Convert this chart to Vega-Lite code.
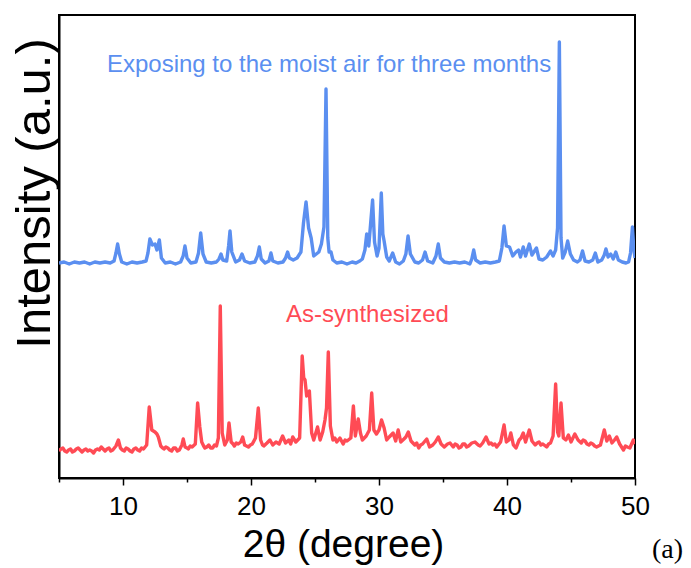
{
"$schema": "https://vega.github.io/schema/vega-lite/v6.json",
"width": 576, "height": 463,
"autosize": "none",
"padding": {"left": 59, "top": 15, "right": 56, "bottom": 90},
"background": "white",
"config": {"view": {"stroke": "#000", "strokeWidth": 2}, "font": "Liberation Sans"},
"datasets": {
"exposed": [
{"t":5.0,"i":215},{"t":5.4,"i":216},{"t":5.8,"i":214},{"t":6.2,"i":216},{"t":6.6,"i":215},{"t":7.0,"i":216},{"t":7.4,"i":214},{"t":7.8,"i":216},{"t":8.2,"i":215},{"t":8.6,"i":216},{"t":9.0,"i":215},{"t":9.3,"i":217},{"t":9.45,"i":225},{"t":9.58,"i":234},{"t":9.72,"i":224},{"t":9.9,"i":216},{"t":10.3,"i":214},{"t":10.7,"i":216},{"t":11.1,"i":215},{"t":11.5,"i":216},{"t":11.8,"i":217},{"t":11.95,"i":225},{"t":12.1,"i":239},{"t":12.3,"i":233},{"t":12.5,"i":234},{"t":12.65,"i":228},{"t":12.84,"i":238},{"t":13.0,"i":220},{"t":13.3,"i":215},{"t":13.7,"i":216},{"t":14.1,"i":214},{"t":14.5,"i":216},{"t":14.7,"i":222},{"t":14.84,"i":232},{"t":15.0,"i":220},{"t":15.3,"i":215},{"t":15.7,"i":216},{"t":15.9,"i":225},{"t":16.07,"i":245},{"t":16.25,"i":224},{"t":16.5,"i":216},{"t":16.9,"i":215},{"t":17.3,"i":216},{"t":17.5,"i":219},{"t":17.66,"i":224},{"t":17.8,"i":218},{"t":18.1,"i":217},{"t":18.25,"i":232},{"t":18.36,"i":247},{"t":18.5,"i":226},{"t":18.8,"i":216},{"t":19.1,"i":218},{"t":19.3,"i":224},{"t":19.5,"i":217},{"t":19.9,"i":215},{"t":20.3,"i":216},{"t":20.5,"i":222},{"t":20.65,"i":231},{"t":20.8,"i":219},{"t":21.1,"i":215},{"t":21.4,"i":217},{"t":21.56,"i":225},{"t":21.7,"i":217},{"t":22.1,"i":215},{"t":22.5,"i":216},{"t":22.7,"i":220},{"t":22.86,"i":226},{"t":23.0,"i":220},{"t":23.3,"i":218},{"t":23.6,"i":220},{"t":23.9,"i":226},{"t":24.1,"i":255},{"t":24.3,"i":276},{"t":24.5,"i":250},{"t":24.7,"i":240},{"t":24.9,"i":222},{"t":25.1,"i":224},{"t":25.3,"i":226},{"t":25.5,"i":234},{"t":25.7,"i":251},{"t":25.86,"i":389},{"t":26.0,"i":240},{"t":26.1,"i":226},{"t":26.25,"i":226},{"t":26.4,"i":218},{"t":26.7,"i":215},{"t":27.1,"i":216},{"t":27.5,"i":214},{"t":27.9,"i":216},{"t":28.2,"i":215},{"t":28.5,"i":217},{"t":28.7,"i":219},{"t":28.9,"i":228},{"t":29.04,"i":244},{"t":29.2,"i":232},{"t":29.5,"i":278},{"t":29.65,"i":236},{"t":29.85,"i":222},{"t":30.0,"i":230},{"t":30.18,"i":285},{"t":30.3,"i":244},{"t":30.4,"i":237},{"t":30.6,"i":221},{"t":30.8,"i":217},{"t":31.07,"i":225},{"t":31.3,"i":216},{"t":31.6,"i":214},{"t":31.9,"i":217},{"t":32.1,"i":224},{"t":32.27,"i":242},{"t":32.45,"i":224},{"t":32.8,"i":216},{"t":33.1,"i":215},{"t":33.4,"i":218},{"t":33.6,"i":226},{"t":33.8,"i":217},{"t":34.2,"i":215},{"t":34.45,"i":222},{"t":34.63,"i":234},{"t":34.8,"i":220},{"t":35.1,"i":216},{"t":35.5,"i":215},{"t":35.9,"i":216},{"t":36.3,"i":215},{"t":36.7,"i":216},{"t":37.1,"i":214},{"t":37.25,"i":219},{"t":37.4,"i":228},{"t":37.55,"i":218},{"t":37.9,"i":215},{"t":38.3,"i":216},{"t":38.7,"i":215},{"t":39.1,"i":216},{"t":39.4,"i":217},{"t":39.6,"i":230},{"t":39.77,"i":252},{"t":39.95,"i":232},{"t":40.2,"i":231},{"t":40.45,"i":222},{"t":40.7,"i":226},{"t":40.9,"i":228},{"t":41.05,"i":221},{"t":41.27,"i":231},{"t":41.45,"i":222},{"t":41.74,"i":234},{"t":41.95,"i":223},{"t":42.3,"i":230},{"t":42.5,"i":219},{"t":42.8,"i":218},{"t":43.1,"i":221},{"t":43.4,"i":227},{"t":43.6,"i":222},{"t":43.8,"i":228},{"t":43.95,"i":250},{"t":44.09,"i":436},{"t":44.22,"i":240},{"t":44.35,"i":220},{"t":44.55,"i":226},{"t":44.74,"i":237},{"t":44.95,"i":224},{"t":45.2,"i":218},{"t":45.5,"i":216},{"t":45.7,"i":218},{"t":45.9,"i":227},{"t":46.1,"i":217},{"t":46.4,"i":216},{"t":46.7,"i":218},{"t":46.9,"i":225},{"t":47.1,"i":216},{"t":47.4,"i":218},{"t":47.6,"i":223},{"t":47.73,"i":229},{"t":47.9,"i":221},{"t":48.1,"i":224},{"t":48.3,"i":219},{"t":48.5,"i":226},{"t":48.7,"i":218},{"t":49.0,"i":216},{"t":49.3,"i":215},{"t":49.5,"i":216},{"t":49.65,"i":225},{"t":49.8,"i":251},{"t":49.9,"i":230},{"t":50.0,"i":220}
],
"asyn": [
{"t":5.0,"i":27},{"t":5.15,"i":29},{"t":5.3,"i":30},{"t":5.45,"i":27},{"t":5.6,"i":26},{"t":5.75,"i":28},{"t":5.9,"i":29},{"t":6.05,"i":26},{"t":6.2,"i":27},{"t":6.35,"i":29},{"t":6.5,"i":30},{"t":6.65,"i":28},{"t":6.8,"i":26},{"t":6.95,"i":28},{"t":7.1,"i":29},{"t":7.25,"i":27},{"t":7.4,"i":28},{"t":7.55,"i":27},{"t":7.7,"i":25},{"t":7.85,"i":28},{"t":8.0,"i":29},{"t":8.15,"i":28},{"t":8.3,"i":31},{"t":8.45,"i":29},{"t":8.6,"i":27},{"t":8.75,"i":29},{"t":8.9,"i":30},{"t":9.05,"i":27},{"t":9.2,"i":28},{"t":9.45,"i":32},{"t":9.64,"i":38},{"t":9.8,"i":30},{"t":9.95,"i":28},{"t":10.1,"i":27},{"t":10.25,"i":30},{"t":10.4,"i":29},{"t":10.55,"i":27},{"t":10.7,"i":26},{"t":10.85,"i":29},{"t":11.0,"i":30},{"t":11.15,"i":28},{"t":11.3,"i":27},{"t":11.45,"i":30},{"t":11.6,"i":29},{"t":11.85,"i":33},{"t":12.05,"i":71},{"t":12.25,"i":48},{"t":12.5,"i":46},{"t":12.65,"i":44},{"t":12.76,"i":41},{"t":12.95,"i":32},{"t":13.1,"i":30},{"t":13.2,"i":29},{"t":13.35,"i":31},{"t":13.5,"i":30},{"t":13.65,"i":28},{"t":13.8,"i":27},{"t":13.95,"i":30},{"t":14.1,"i":30},{"t":14.25,"i":27},{"t":14.4,"i":28},{"t":14.6,"i":33},{"t":14.71,"i":39},{"t":14.85,"i":31},{"t":15.0,"i":30},{"t":15.1,"i":29},{"t":15.25,"i":32},{"t":15.4,"i":31},{"t":15.65,"i":34},{"t":15.83,"i":75},{"t":16.0,"i":51},{"t":16.15,"i":36},{"t":16.3,"i":32},{"t":16.4,"i":30},{"t":16.55,"i":31},{"t":16.7,"i":33},{"t":16.85,"i":30},{"t":17.0,"i":30},{"t":17.15,"i":33},{"t":17.3,"i":32},{"t":17.45,"i":40},{"t":17.6,"i":172},{"t":17.75,"i":45},{"t":17.95,"i":33},{"t":18.15,"i":38},{"t":18.28,"i":55},{"t":18.45,"i":36},{"t":18.6,"i":34},{"t":18.7,"i":32},{"t":18.85,"i":35},{"t":19.0,"i":34},{"t":19.2,"i":36},{"t":19.35,"i":41},{"t":19.5,"i":33},{"t":19.65,"i":32},{"t":19.8,"i":31},{"t":19.95,"i":33},{"t":20.1,"i":34},{"t":20.35,"i":40},{"t":20.57,"i":70},{"t":20.75,"i":38},{"t":20.9,"i":33},{"t":21.0,"i":32},{"t":21.25,"i":35},{"t":21.48,"i":38},{"t":21.7,"i":33},{"t":21.95,"i":36},{"t":22.2,"i":34},{"t":22.47,"i":42},{"t":22.7,"i":35},{"t":22.95,"i":38},{"t":23.1,"i":34},{"t":23.26,"i":41},{"t":23.5,"i":36},{"t":23.65,"i":38},{"t":23.8,"i":40},{"t":24.0,"i":122},{"t":24.12,"i":100},{"t":24.22,"i":98},{"t":24.35,"i":82},{"t":24.56,"i":87},{"t":24.74,"i":45},{"t":24.9,"i":38},{"t":25.2,"i":51},{"t":25.4,"i":38},{"t":25.6,"i":46},{"t":25.78,"i":58},{"t":25.9,"i":70},{"t":26.04,"i":126},{"t":26.2,"i":52},{"t":26.4,"i":38},{"t":26.55,"i":40},{"t":26.7,"i":36},{"t":26.95,"i":40},{"t":27.2,"i":34},{"t":27.35,"i":38},{"t":27.5,"i":37},{"t":27.8,"i":40},{"t":28.0,"i":72},{"t":28.15,"i":42},{"t":28.38,"i":59},{"t":28.55,"i":45},{"t":28.7,"i":38},{"t":29.0,"i":42},{"t":29.25,"i":48},{"t":29.43,"i":85},{"t":29.6,"i":48},{"t":29.8,"i":44},{"t":30.0,"i":48},{"t":30.2,"i":58},{"t":30.4,"i":50},{"t":30.6,"i":38},{"t":30.8,"i":41},{"t":31.1,"i":45},{"t":31.3,"i":37},{"t":31.5,"i":48},{"t":31.7,"i":36},{"t":31.95,"i":39},{"t":32.1,"i":41},{"t":32.29,"i":46},{"t":32.5,"i":37},{"t":32.65,"i":35},{"t":32.8,"i":33},{"t":32.95,"i":35},{"t":33.1,"i":30},{"t":33.25,"i":33},{"t":33.4,"i":34},{"t":33.73,"i":39},{"t":33.95,"i":31},{"t":34.2,"i":33},{"t":34.4,"i":36},{"t":34.63,"i":41},{"t":34.85,"i":34},{"t":35.1,"i":31},{"t":35.35,"i":34},{"t":35.55,"i":35},{"t":35.8,"i":31},{"t":35.95,"i":34},{"t":36.1,"i":33},{"t":36.25,"i":30},{"t":36.4,"i":31},{"t":36.55,"i":34},{"t":36.7,"i":34},{"t":36.85,"i":31},{"t":37.0,"i":32},{"t":37.25,"i":35},{"t":37.5,"i":36},{"t":37.75,"i":33},{"t":37.9,"i":32},{"t":38.1,"i":35},{"t":38.36,"i":41},{"t":38.6,"i":34},{"t":38.75,"i":35},{"t":38.9,"i":33},{"t":39.05,"i":34},{"t":39.2,"i":31},{"t":39.5,"i":36},{"t":39.77,"i":53},{"t":39.95,"i":36},{"t":40.15,"i":38},{"t":40.3,"i":45},{"t":40.5,"i":33},{"t":40.7,"i":30},{"t":40.95,"i":38},{"t":41.1,"i":40},{"t":41.27,"i":45},{"t":41.45,"i":36},{"t":41.74,"i":48},{"t":41.95,"i":37},{"t":42.2,"i":33},{"t":42.35,"i":35},{"t":42.5,"i":36},{"t":42.65,"i":33},{"t":42.8,"i":34},{"t":43.1,"i":31},{"t":43.25,"i":34},{"t":43.4,"i":35},{"t":43.6,"i":42},{"t":43.8,"i":94},{"t":43.95,"i":46},{"t":44.05,"i":42},{"t":44.22,"i":75},{"t":44.4,"i":40},{"t":44.6,"i":38},{"t":44.8,"i":43},{"t":45.0,"i":36},{"t":45.3,"i":44},{"t":45.55,"i":38},{"t":45.8,"i":35},{"t":45.95,"i":38},{"t":46.1,"i":37},{"t":46.25,"i":34},{"t":46.4,"i":33},{"t":46.55,"i":35},{"t":46.7,"i":34},{"t":46.85,"i":32},{"t":47.0,"i":31},{"t":47.3,"i":33},{"t":47.6,"i":48},{"t":47.8,"i":37},{"t":48.0,"i":42},{"t":48.2,"i":35},{"t":48.4,"i":38},{"t":48.57,"i":41},{"t":48.8,"i":34},{"t":48.95,"i":31},{"t":49.1,"i":28},{"t":49.25,"i":32},{"t":49.4,"i":31},{"t":49.6,"i":30},{"t":49.87,"i":38},{"t":50.0,"i":34}
],
"labels": [
{"t":26.1,"i":406,"label":"Exposing to the moist air for three months","color":"#5b8ff0"},
{"t":29.1,"i":156,"label":"As-synthesized","color":"#ff4b55"}
],
"panel": [
{"t":52.54,"i":-80,"label":"(a)"}
]
},
"encoding": {
"x": {"field":"t","type":"quantitative","scale":{"domain":[5,50],"nice":false,"zero":false},
 "title":"2θ (degree)",
 "axis":{"values":[5,10,15,20,25,30,35,40,45,50],"labelExpr":"datum.value % 10 === 0 ? datum.label : ''",
  "tickSize":{"condition":{"test":"datum.value % 10 === 0","value":7},"value":4},
  "tickColor":"black","tickWidth":1.5,"domainColor":"black","domainWidth":2,
  "labelFontSize":26,"labelColor":"black","labelBaseline":"alphabetic","labelPadding":29,"labelFlush":false,"labelOverlap":false,"labelFont":"Liberation Sans",
  "titleFontSize":39,"titleFontWeight":"normal","titleColor":"black","titleFont":"Liberation Sans",
  "titleX":284,"titleY":78,"titleBaseline":"alphabetic","titleAlign":"center","grid":false}},
"y": {"field":"i","type":"quantitative","scale":{"domain":[0,463],"nice":false,"zero":false},
 "title":"Intensity (a.u.)",
 "axis":{"ticks":false,"labels":false,"grid":false,"domainColor":"black","domainWidth":2,
  "titleFontSize":49,"titleFontWeight":"normal","titleColor":"black","titleFont":"Liberation Sans",
  "titleAngle":270,"titleBaseline":"alphabetic","titleAlign":"center","titleX":-10,"titleY":178}}
},
"layer": [
{"data":{"name":"exposed"},"mark":{"type":"line","stroke":"#5b8ff0","strokeWidth":3.4,"clip":true,"strokeJoin":"round"}},
{"data":{"name":"asyn"},"mark":{"type":"line","stroke":"#ff4b55","strokeWidth":3.4,"clip":true,"strokeJoin":"round"}},
{"data":{"name":"labels"},"mark":{"type":"text","fontSize":24,"align":"center","baseline":"alphabetic","font":"Liberation Sans"},
 "encoding":{"text":{"field":"label"},"color":{"field":"color","type":"nominal","scale":null}}},
{"data":{"name":"panel"},"mark":{"type":"text","fontSize":28,"align":"center","baseline":"alphabetic","font":"Liberation Serif","color":"black","clip":false},
 "encoding":{"text":{"field":"label"}}}
]
}
